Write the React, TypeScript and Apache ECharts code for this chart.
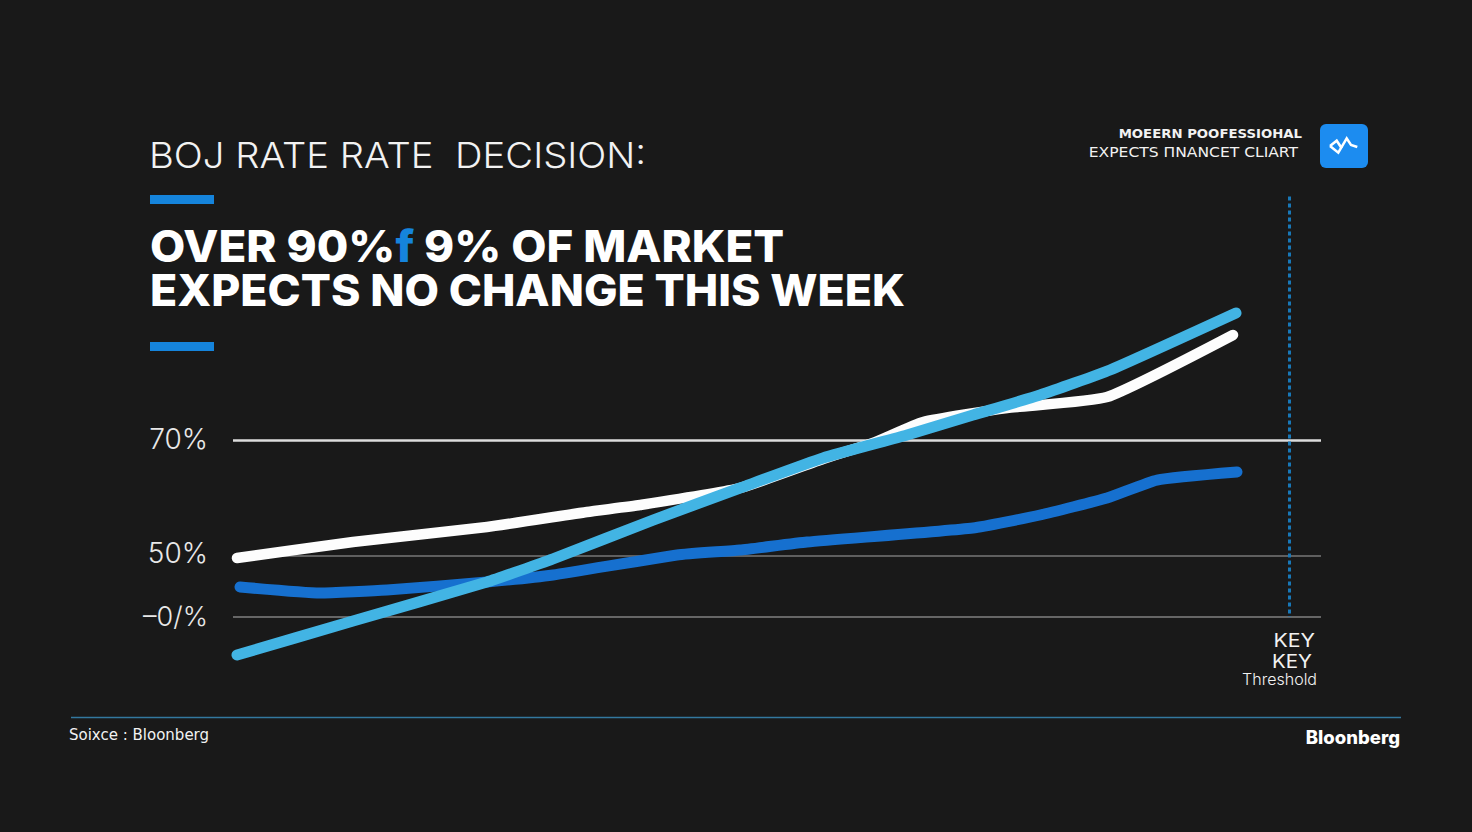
import React, { useEffect, useRef } from "react";
import * as echarts from "echarts";

const whiteX = [4, 120, 254, 354, 407, 507, 590, 640, 690, 774, 874, 1000];
const whiteY = [49.66, 52.41, 55.0, 57.59, 58.79, 61.72, 66.72, 69.5, 73.1, 75.5, 77.4, 88.1];
const lightX = [4, 120, 254, 320, 420, 507, 590, 674, 740, 807, 877, 1003];
const lightY = [32.93, 38.79, 45.52, 49.5, 56.2, 61.72, 66.9, 70.86, 74.3, 77.76, 82.07, 91.9];
const darkX = [7, 87, 154, 254, 320, 444, 507, 574, 740, 807, 874, 924, 1004];
const darkY = [44.66, 43.62, 44.14, 45.52, 46.72, 50.17, 51.03, 52.41, 54.83, 57.07, 60, 63.1, 64.48];
const tickValues = [39.5, 50, 70];
const tickLabels: Record<string, string> = { "39.5": "{c|–0/%}", "50": "{b|50%}", "70": "{a|70%}" };
const thresholdX = 1056;
const xMax = 1088;

const BG = "#191919";
const WHITE = "#fdfdfd";
const LIGHT = "#42b4e4";
const DARK = "#1670cf";
const ACCENT = "#1584dc";

const zip = (xs: number[], ys: number[]) => xs.map((x, i) => [x, ys[i]]);

const lineSeries = (name: string, xs: number[], ys: number[], color: string, z: number, width: number) => ({
  name,
  type: "line",
  z,
  data: zip(xs, ys),
  showSymbol: false,
  symbol: "none",
  smooth: 0.15,
  silent: true,
  lineStyle: { color, width, cap: "round", join: "round" },
});

const txt = (x: number, y: number, text: string, fontSize: number, opts: any = {}) => ({
  type: "text",
  x,
  y,
  silent: true,
  scaleX: opts.scaleX ?? 1,
  style: {
    text,
    fontSize,
    fontFamily: opts.family || "Inter",
    fontWeight: opts.weight || 400,
    fill: opts.fill || "#f2f2f2",
    align: opts.align || "left",
    verticalAlign: "middle",
    ...(opts.lineHeight ? { lineHeight: opts.lineHeight } : {}),
    ...(opts.rich ? { rich: opts.rich } : {}),
  },
});

const tickStyle = (paddingBottom: number, fontSize = 28) => ({
  color: "#e8e8e8",
  fontSize,
  fontFamily: "Inter",
  fontWeight: 300,
  padding: [0, 0, paddingBottom, 0],
});

export default function App() {
  const ref = useRef<HTMLDivElement>(null);
  useEffect(() => {
    document.body.style.margin = "0";
    document.body.style.background = BG;
    const chart = echarts.init(ref.current!, null, { renderer: "svg" });
    chart.setOption({
      animation: false,
      backgroundColor: BG,
      grid: { left: 233, right: 151, top: 196.4, bottom: 160 },
      xAxis: { type: "value", min: 0, max: xMax, show: false },
      yAxis: {
        type: "value",
        min: 30,
        max: 112,
        axisLine: { show: false },
        axisTick: { show: false },
        splitLine: { show: false },
        axisLabel: {
          customValues: tickValues,
          formatter: (v: number) => tickLabels[String(v)] ?? "",
          margin: 25,
          rich: { a: tickStyle(2), b: tickStyle(6), c: tickStyle(0, 27) },
        },
      },
      series: [
        {
          type: "line",
          data: [],
          z: 1,
          silent: true,
          markLine: {
            silent: true,
            z: 1,
            symbol: "none",
            label: { show: false },
            data: [
              [
                { coord: [0, 70], lineStyle: { color: "#dcdcdc", width: 2.5, type: "solid" } },
                { coord: [xMax, 70] },
              ],
              [
                { coord: [0, 50], lineStyle: { color: "#777777", width: 1.5, type: "solid" } },
                { coord: [xMax, 50] },
              ],
              [
                { coord: [0, 39.5], lineStyle: { color: "#808080", width: 1.5, type: "solid" } },
                { coord: [xMax, 39.5] },
              ],
            ],
          },
        },
        lineSeries("Market", whiteX, whiteY, WHITE, 3, 10.5),
        lineSeries("Core", darkX, darkY, DARK, 4, 11),
        lineSeries("Expected", lightX, lightY, LIGHT, 5, 11),
        {
          type: "line",
          data: [],
          z: 6,
          silent: true,
          markLine: {
            silent: true,
            z: 6,
            symbol: "none",
            label: { show: false },
            data: [
              [
                { coord: [thresholdX, 112], lineStyle: { color: "#1878b8", width: 3, type: [4, 3] } },
                { coord: [thresholdX, 39.5] },
              ],
            ],
          },
        },
      ],
      graphic: [
        txt(149, 155, "BOJ RATE RATE  DECISION:", 36, { weight: 300, scaleX: 1.062 }),
        { type: "rect", shape: { x: 150, y: 195, width: 64, height: 9 }, style: { fill: ACCENT } },
        txt(150, 246, "OVER 90%{b|f} 9% OF MARKET", 44, {
          weight: 800,
          fill: "#ffffff",
          scaleX: 1.038,
          lineHeight: 40,
          rich: {
            b: { fill: ACCENT, fontSize: 44, fontWeight: 800, fontFamily: "Inter", lineHeight: 40 },
          },
        }),
        txt(150, 290, "EXPECTS NO CHANGE THIS WEEK", 44, { weight: 800, fill: "#ffffff", lineHeight: 40, scaleX: 1.015 }),
        { type: "rect", shape: { x: 150, y: 342, width: 64, height: 9 }, style: { fill: ACCENT } },
        txt(1302, 134, "MOEERN POOFESSIOHAL", 13, { family: "DejaVu Sans", weight: 700, align: "right", scaleX: 1.02 }),
        txt(1298, 152, "EXPECTS ΠNANCET CLIART", 14, { family: "DejaVu Sans", align: "right", scaleX: 1.11 }),
        { type: "rect", shape: { x: 1320, y: 124, width: 48, height: 44, r: 6 }, style: { fill: "#1c8cf0" } },
        {
          type: "polyline",
          shape: { points: [[1330, 146], [1338.3, 152.7], [1346.7, 138.3], [1351, 145], [1357.3, 147]] },
          style: { stroke: "#ffffff", lineWidth: 2.5, fill: "none" },
        },
        {
          type: "polyline",
          shape: { points: [[1330, 146], [1336.7, 140.7], [1341.7, 148.3]] },
          style: { stroke: "#ffffff", lineWidth: 2.5, fill: "none" },
        },
        txt(1315, 640, "KEY", 19, { align: "right", scaleX: 1.12, lineHeight: 18 }),
        txt(1312, 661, "KEY", 19, { align: "right", scaleX: 1.08, lineHeight: 18 }),
        txt(1317, 679, "Threshold", 16, { align: "right", weight: 300, lineHeight: 16 }),
        {
          type: "line",
          shape: { x1: 71, y1: 717.5, x2: 1401, y2: 717.5 },
          style: { stroke: "#33789f", lineWidth: 1.5 },
        },
        txt(69, 735, "Soixce : Bloonberg", 15, { family: "DejaVu Sans", weight: 400 }),
        txt(1400, 737, "Bloonberg", 18.5, { align: "right", weight: 800, fill: "#ffffff" }),
      ],
    });
    return () => chart.dispose();
  }, []);
  return (
    <div
      ref={ref}
      style={{ position: "absolute", left: 0, top: 0, width: 1472, height: 832, overflow: "hidden" }}
    />
  );
}
